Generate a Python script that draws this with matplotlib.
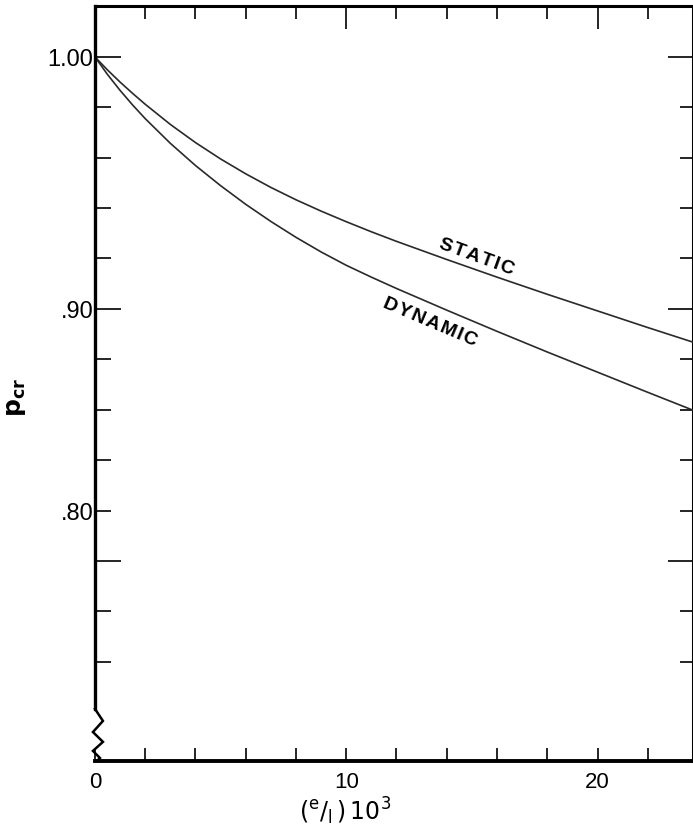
import numpy as np
import matplotlib
matplotlib.use("Agg")
import matplotlib.pyplot as plt
from matplotlib.transforms import blended_transform_factory

plt.rcParams["font.family"] = ["Liberation Sans", "DejaVu Sans"]
plt.rcParams["mathtext.fontset"] = "dejavusans"

# eccentricity ratio (e/l) x 10^3
ecc = [0, 0.5, 1, 1.5, 2, 3, 4, 5, 6, 7, 8, 9, 10, 11, 12, 14, 16, 18, 20, 22, 23.8]
# critical load ratio
p_static = [1.000, 0.9948, 0.9900, 0.9855, 0.9812, 0.9732, 0.9660, 0.9595, 0.9536,
            0.9482, 0.9433, 0.9388, 0.9346, 0.9306, 0.9268, 0.9196, 0.9126, 0.9058,
            0.8992, 0.8926, 0.8868]
p_dynamic = [1.000, 0.9930, 0.9867, 0.9809, 0.9755, 0.9657, 0.9569, 0.9489, 0.9415,
             0.9347, 0.9284, 0.9226, 0.9173, 0.9126, 0.9081, 0.8995, 0.8911, 0.8829,
             0.8749, 0.8669, 0.8598]

x_major = [0, 10, 20]
x_minor = [2, 4, 6, 8, 12, 14, 16, 18, 22]
y_major = [0.80, 0.90, 1.00]
y_major_labels = ["", ".90", "1.00"]
y_minor = [0.76, 0.78, 0.82, 0.84, 0.86, 0.88, 0.92, 0.94, 0.96, 0.98]
y_minor_labels = ["", "", ".80", "", "", "", "", "", "", ""]

fig = plt.figure(figsize=(6.93, 8.29), dpi=100)
ax = fig.add_axes([0.137, 0.0808, 0.863, 0.9108])

ax.plot(ecc, p_static, color="#2a2a2a", lw=1.2)
ax.plot(ecc, p_dynamic, color="#2a2a2a", lw=1.2)

ax.set_xlim(0, 23.8)
ax.set_ylim(0.7206, 1.0202)

# bottom / left ticks, all pointing inward
ax.set_xticks(x_major)
ax.set_xticks(x_minor, minor=True)
ax.set_xticklabels(["0", "10", "20"])
ax.set_yticks(y_major)
ax.set_yticklabels(y_major_labels)
ax.set_yticks(y_minor, minor=True)
ax.set_yticklabels(y_minor_labels, minor=True)
ax.tick_params(axis="x", which="both", direction="in", length=9.5, width=1.2,
               labelsize=16, pad=7)
ax.tick_params(axis="y", which="major", direction="in", length=18.5, width=1.2,
               labelsize=17, pad=1)
ax.tick_params(axis="y", which="minor", direction="in", length=11.5, width=1.2,
               labelsize=17, pad=1)

for side in ["top", "right"]:
    ax.spines[side].set_visible(False)
ax.spines["bottom"].set_linewidth(2.8)
ax.spines["left"].set_linewidth(2.4)
ax.spines["left"].set_bounds(0.7413, 1.0202)

# top and right frame with their own tick lengths
top = ax.secondary_xaxis("top")
top.set_xticks(x_major)
top.set_xticks(x_minor, minor=True)
top.tick_params(which="major", direction="in", length=16.5, width=1.2, labeltop=False)
top.tick_params(which="minor", direction="in", length=9.5, width=1.2, labeltop=False)
top.spines["top"].set_linewidth(2.2)

right = ax.secondary_yaxis("right")
right.set_yticks(y_major)
right.set_yticks(y_minor, minor=True)
right.tick_params(which="major", direction="in", length=18, width=1.2, labelright=False)
right.tick_params(which="minor", direction="in", length=9.5, width=1.2, labelright=False)
right.spines["right"].set_linewidth(2.2)

# axis break: zigzag on the lower end of the left spine
zig_x = np.array([0.0, 8, -2, 8, -2, 5, 2]) / 598.0
zig_y = [0.7413, 0.7365, 0.7321, 0.7282, 0.7246, 0.7218, 0.7206]
zig_trans = blended_transform_factory(ax.transAxes, ax.transData)
ax.plot(zig_x, zig_y, color="black", lw=1.8, transform=zig_trans,
        clip_on=False, solid_joinstyle="miter")

hair = "\u200a"
ax.text(15.2, 0.9210, hair.join("STATIC"), rotation=-20, rotation_mode="anchor",
        ha="center", va="center", fontsize=14, fontweight="bold",
        family=["Liberation Sans", "DejaVu Sans"])
ax.text(13.35, 0.8950, hair.join("DYNAMIC"), rotation=-23, rotation_mode="anchor",
        ha="center", va="center", fontsize=14, fontweight="bold",
        family=["Liberation Sans", "DejaVu Sans"])

ax.set_ylabel(r"$\mathbf{p}_{\mathbf{cr}}$", fontsize=18)
ax.yaxis.set_label_coords(-0.112, 0.483)
ax.set_xlabel(r"$(^{\mathrm{e}}/_{\mathrm{l}}\,)\,\mathrm{10}^{3}$", fontsize=17)
ax.xaxis.set_label_coords(0.418, -0.045)

fig.savefig("out.png", dpi=100)
